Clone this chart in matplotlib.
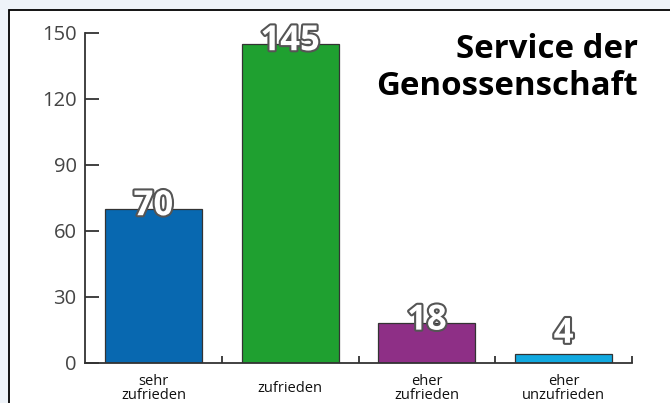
import matplotlib
matplotlib.use("Agg")
import matplotlib.pyplot as plt
import matplotlib.patheffects as pe
from matplotlib.patches import Rectangle

categories = ["sehr\nzufrieden", "zufrieden", "eher\nzufrieden", "eher\nunzufrieden"]
counts = [70, 145, 18, 4]
colors = ["#0868b0", "#1fa030", "#8e2f86", "#12a9e0"]
yticks = [0, 30, 60, 90, 120, 150]
title = "Service der\nGenossenschaft"

plt.rcParams['font.family'] = ['Open Sans', 'DejaVu Sans']

fig = plt.figure(figsize=(6.7, 4.03), dpi=100)
fig.patch.set_facecolor("#eef3f9")

# white panel with black frame
W, H = 670, 403
fig.patches.append(Rectangle((9 / W, -0.05), 1.1, 1 - 10 / H + 0.05,
                             transform=fig.transFigure, facecolor="white",
                             edgecolor="black", linewidth=1.3, zorder=-10))

ax = fig.add_axes([85 / W, 1 - 363 / H, (632 - 85) / W, (363 - 33) / H])
ax.set_facecolor("none")

x = range(len(categories))
ax.bar(x, counts, width=0.71, color=colors, edgecolor="#333333",
       linewidth=0.9, zorder=2)

ax.set_xlim(-0.5, 3.5)
ax.set_ylim(0, 150)

for s in ("top", "right"):
    ax.spines[s].set_visible(False)
for s in ("left", "bottom"):
    ax.spines[s].set_color("#333333")
    ax.spines[s].set_linewidth(1.3)

ax.set_yticks(yticks)
ax.tick_params(axis="y", direction="in", length=10, width=1.3,
               color="#333333", labelsize=14.5, labelcolor="#444444", pad=6)

ax.set_xticks(list(x))
ax.set_xticklabels(categories, fontsize=10.5, linespacing=0.9)
ax.tick_params(axis="x", length=0, pad=18.5, labelcolor="#111111")
for lb in ax.get_xticklabels():
    lb.set_verticalalignment("center")
ax.set_xticks([0.5, 1.5, 2.5, 3.5], minor=True)
ax.tick_params(axis="x", which="minor", direction="in", length=5,
               width=1.3, color="#333333")

# value labels: white with dark outline
for i, v in enumerate(counts):
    ax.annotate(str(v), (i, max(v, 12)), xytext=(0, 2),
                textcoords="offset points", ha="center", va="center",
                fontsize=25, fontweight="bold", color="white", zorder=5,
                path_effects=[pe.SimplePatchShadow(offset=(1, -1), alpha=0.4),
                              pe.withStroke(linewidth=3, foreground="#555555")])

fig.text(638 / W, 1 - 33 / H, title, ha="right", va="top",
         fontsize=23.8, fontweight="bold", color="black", linespacing=1.15)

fig.savefig("out.png", dpi=100, facecolor=fig.get_facecolor())
